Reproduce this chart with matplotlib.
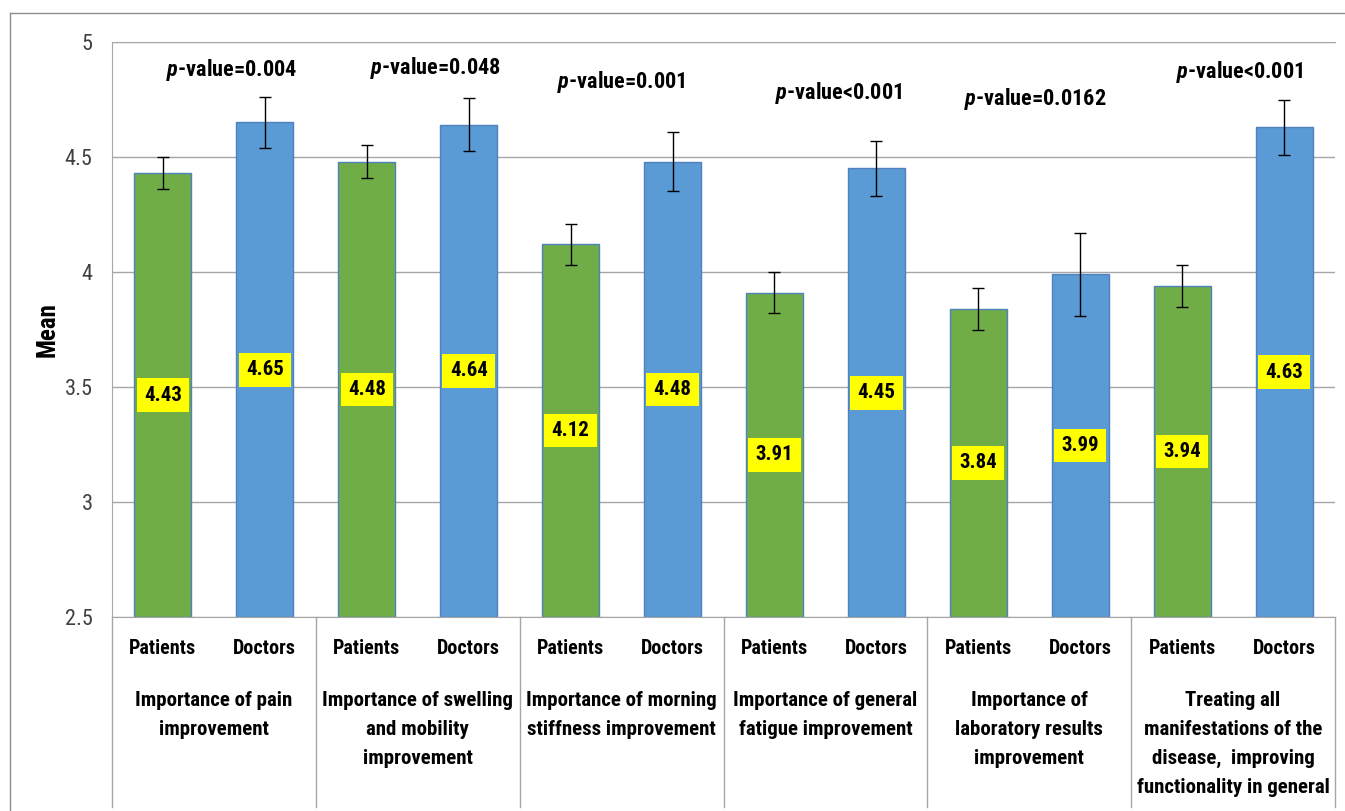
import numpy as np
import matplotlib
matplotlib.use('Agg')
from matplotlib import pyplot as plt
from matplotlib import font_manager
from matplotlib.transforms import blended_transform_factory
from matplotlib.lines import Line2D

# font: pick a narrow one if available (original looks like Calibri)
names = set(f.name for f in font_manager.fontManager.ttflist)
family = 'Liberation Sans'
for cand in ['Liberation Sans Narrow', 'Roboto Condensed', 'Open Sans Condensed']:
    if cand in names:
        family = cand
        break
plt.rcParams['font.family'] = [family, 'DejaVu Sans']
plt.rcParams['mathtext.fontset'] = 'custom'
plt.rcParams['mathtext.it'] = family + ':italic:bold'
plt.rcParams['mathtext.rm'] = family + ':bold'

groups = ['Importance of pain\nimprovement',
          'Importance of swelling\nand mobility\nimprovement',
          'Importance of morning\nstiffness improvement',
          'Importance of general\nfatigue improvement',
          'Importance of\nlaboratory results\nimprovement',
          'Treating all\nmanifestations of the\ndisease,  improving\nfunctionality in general']
patients = [4.43, 4.48, 4.12, 3.91, 3.84, 3.94]
doctors = [4.65, 4.64, 4.48, 4.45, 3.99, 4.63]
patients_err = [0.07, 0.07, 0.09, 0.09, 0.09, 0.09]
doctors_err = [0.11, 0.115, 0.13, 0.12, 0.18, 0.12]
pvalues = ['=0.004', '=0.048', '=0.001', '<0.001', '=0.0162', '<0.001']
# p-value text positions (data coords)
p_x = [0.67, 2.67, 4.5, 6.63, 8.56, 10.56]
p_y = [4.878, 4.887, 4.826, 4.778, 4.752, 4.87]

green = '#70AD47'
blue = '#5B9BD5'
edge = '#4F81BD'
grid = '#A6A6A6'

fig = plt.figure(figsize=(13.45, 8.11), dpi=100)
ax = fig.add_axes([112 / 1345, 1 - 617 / 811, (1335 - 112) / 1345, (617 - 42) / 811])

n = len(groups)
xp = np.arange(n) * 2
xd = xp + 1
w = 0.56
ax.bar(xp, np.array(patients) - 2.5, bottom=2.5, width=w, color=green, edgecolor=edge, linewidth=1, zorder=2)
ax.bar(xd, np.array(doctors) - 2.5, bottom=2.5, width=w, color=blue, edgecolor=edge, linewidth=1, zorder=2)
ax.errorbar(xp, patients, yerr=patients_err, fmt='none', ecolor='black', elinewidth=1, capsize=4, capthick=1, zorder=3)
ax.errorbar(xd, doctors, yerr=doctors_err, fmt='none', ecolor='black', elinewidth=1, capsize=4, capthick=1, zorder=3)

for xs, vals in ((xp, patients), (xd, doctors)):
    for x, v in zip(xs, vals):
        ax.text(x, (2.5 + v) / 2, '%.2f' % v, ha='center', va='center', fontsize=15, fontweight='bold',
                bbox=dict(boxstyle='square,pad=0.35', facecolor='#FFFF00', edgecolor='none'), zorder=4)

for x, y, p in zip(p_x, p_y, pvalues):
    ax.text(x, y, r'$\it{p}$' + '-value' + p, ha='center', va='center', fontsize=16, fontweight='bold')

ax.set_xlim(-0.5, 2 * n - 0.5)
ax.set_ylim(2.5, 5)
ax.set_yticks([2.5, 3, 3.5, 4, 4.5, 5])
ax.set_yticklabels(['2.5', '3', '3.5', '4', '4.5', '5'])
ax.tick_params(axis='y', length=0, pad=14, labelsize=16, labelcolor='#404040')
ax.set_xticks([])
ax.yaxis.grid(True, color=grid, linewidth=1)
ax.set_axisbelow(True)
ax.spines['right'].set_visible(False)
for s in ['top', 'left', 'bottom']:
    ax.spines[s].set_color(grid)
ax.set_ylabel('Mean', fontsize=18, fontweight='bold')
ax.yaxis.set_label_coords(-0.043, 0.5)

trans = blended_transform_factory(ax.transData, ax.transAxes)
for i in range(n):
    ax.text(xp[i], -0.054, 'Patients', transform=trans, ha='center', va='center', fontsize=14.5, fontweight='bold')
    ax.text(xd[i], -0.054, 'Doctors', transform=trans, ha='center', va='center', fontsize=14.5, fontweight='bold')
    ax.text(xp[i] + 0.5, -0.129, groups[i], transform=trans, ha='center', va='top', fontsize=15,
            fontweight='bold', linespacing=1.66)
for b in np.arange(n + 1) * 2 - 0.5:
    ax.plot([b, b], [0, -0.33], transform=trans, color=grid, linewidth=1, clip_on=False)

# outer chart border
fig.add_artist(Line2D([10 / 1345, 10 / 1345], [0, 1 - 13 / 811], color='#8C8C8C', linewidth=1))
fig.add_artist(Line2D([10 / 1345, 1], [1 - 13 / 811, 1 - 13 / 811], color='#8C8C8C', linewidth=1))

fig.savefig('out.png', dpi=100)
